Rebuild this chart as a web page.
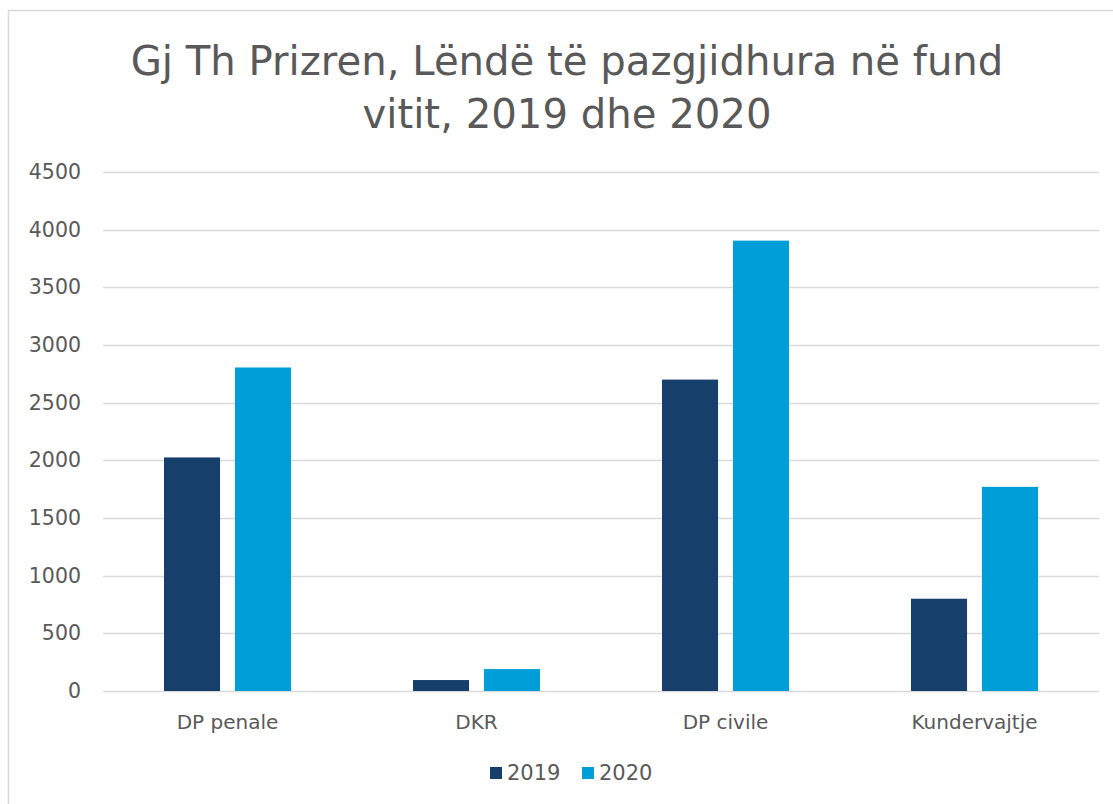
<!DOCTYPE html>
<html>
<head>
<meta charset="utf-8">
<script src="https://cdn.jsdelivr.net/npm/d3@7"></script>
<style>
  body { margin: 0; background: #fff; }
  svg { display: block; font-family: "DejaVu Sans", sans-serif; }
</style>
</head>
<body>
<div id="chart"></div>
<script>
// data
const categories = ["DP penale", "DKR", "DP civile", "Kundervajtje"];
const years = ["2019", "2020"];
const values2019 = [2025, 95, 2700, 800];
const values2020 = [2805, 190, 3905, 1770];
const yTicks = [0, 500, 1000, 1500, 2000, 2500, 3000, 3500, 4000, 4500];
const colours = ["#173F6B", "#009ED8"];

const width = 1113;
const height = 804;
const margin = { top: 172, right: 14, bottom: 113, left: 103 };

const svg = d3
  .select("#chart")
  .append("svg")
  .attr("width", width)
  .attr("height", height);

// chart frame
svg
  .append("rect")
  .attr("x", 8.5)
  .attr("y", 10.5)
  .attr("width", width + 20)
  .attr("height", height + 20)
  .attr("fill", "none")
  .attr("stroke", "#d9d9d9")
  .attr("stroke-width", 1.5);

// title
const title = svg
  .append("text")
  .attr("text-anchor", "middle")
  .attr("fill", "#595959")
  .attr("font-size", 40.2);
title.append("tspan").attr("x", 567).attr("y", 75).text("Gj Th Prizren, Lëndë të pazgjidhura në fund");
title.append("tspan").attr("x", 567).attr("y", 128).text("vitit, 2019 dhe 2020");

const x0 = d3
  .scaleBand()
  .domain(categories)
  .range([margin.left, width - margin.right]);

const x1 = d3
  .scaleBand()
  .domain(years)
  .range([0, 127])
  .paddingInner(0.21);

const y = d3
  .scaleLinear()
  .domain([0, 4500])
  .range([height - margin.bottom, margin.top]);

// gridlines
svg
  .append("g")
  .selectAll("line")
  .data(yTicks)
  .join("line")
  .attr("x1", margin.left)
  .attr("x2", width - margin.right)
  .attr("y1", (d) => Math.round(y(d)) + 0.5)
  .attr("y2", (d) => Math.round(y(d)) + 0.5)
  .attr("stroke", "#d9d9d9")
  .attr("stroke-width", 1.5);

// y labels
svg
  .append("g")
  .selectAll("text")
  .data(yTicks)
  .join("text")
  .attr("x", 81)
  .attr("y", (d) => y(d) + 7)
  .attr("text-anchor", "end")
  .attr("fill", "#595959")
  .attr("font-size", 20.5)
  .text((d) => d);

// bars
const rows = categories.map((c, i) => ({ cat: c, vals: [values2019[i], values2020[i]] }));

const groups = svg
  .append("g")
  .selectAll("g")
  .data(rows)
  .join("g")
  .attr("transform", (d) => `translate(${x0(d.cat) + (x0.bandwidth() - 127) / 2},0)`);

groups
  .selectAll("rect")
  .data((d) => d.vals.map((v, j) => ({ year: years[j], v, j })))
  .join("rect")
  .attr("x", (d) => x1(d.year))
  .attr("width", x1.bandwidth())
  .attr("y", (d) => y(d.v))
  .attr("height", (d) => y(0) - y(d.v))
  .attr("fill", (d) => colours[d.j]);

// category labels
svg
  .append("g")
  .selectAll("text")
  .data(categories)
  .join("text")
  .attr("x", (d) => x0(d) + x0.bandwidth() / 2)
  .attr("y", 729)
  .attr("text-anchor", "middle")
  .attr("fill", "#595959")
  .attr("font-size", 20)
  .text((d) => d);

// legend
const legendX = [490, 582];
const legend = svg
  .append("g")
  .selectAll("g")
  .data(years)
  .join("g")
  .attr("transform", (d, i) => `translate(${legendX[i]},767)`);

legend
  .append("rect")
  .attr("width", 12)
  .attr("height", 12)
  .attr("fill", (d, i) => colours[i]);

legend
  .append("text")
  .attr("x", 17)
  .attr("y", 13)
  .attr("fill", "#595959")
  .attr("font-size", 21)
  .text((d) => d);
</script>
</body>
</html>
